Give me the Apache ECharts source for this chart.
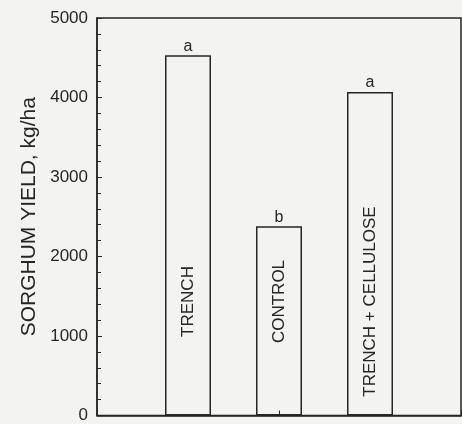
<!DOCTYPE html>
<html>
<head>
<meta charset="utf-8">
<script src="https://cdn.jsdelivr.net/npm/echarts@6/dist/echarts.min.js"></script>
<style>
html,body{margin:0;padding:0;background:#f3f3f2;}
#c{width:462px;height:424px;}
</style>
</head>
<body>
<div id="c"></div>
<script>
const categories = ['TRENCH', 'CONTROL', 'TRENCH + CELLULOSE'];
const yields = [4530, 2380, 4070];
const letters = ['a', 'b', 'a'];
const yTicks = [0, 1000, 2000, 3000, 4000, 5000];

const ink = '#262626';
const font = '"Liberation Sans", Arial, Helvetica, sans-serif';

const xData = [''].concat(categories, ['']);
const barData = [null].concat(yields.map((v, i) => ({ value: v, letter: letters[i], cat: categories[i] })), [null]);

const chart = echarts.init(document.getElementById('c'));
chart.setOption({
  backgroundColor: '#f3f3f2',
  animation: false,
  grid: { left: 97, right: 1, top: 18, bottom: 7, show: true, borderColor: ink, borderWidth: 1.5, backgroundColor: 'transparent' },
  xAxis: {
    type: 'category', data: xData, boundaryGap: false,
    axisLine: { show: true, lineStyle: { color: ink, width: 1.5 } },
    axisTick: { show: true, inside: true, length: 5, lineStyle: { color: ink, width: 1 } },
    axisLabel: { show: false },
    splitLine: { show: false }
  },
  yAxis: {
    type: 'value', min: yTicks[0], max: yTicks[yTicks.length - 1], interval: 1000,
    name: 'SORGHUM YIELD, kg/ha', nameLocation: 'middle', nameGap: 51, nameRotate: 90,
    nameTextStyle: { color: ink, fontSize: 21, fontFamily: font },
    axisLine: { show: true, lineStyle: { color: ink, width: 1.5 } },
    axisTick: { show: true, inside: true, length: 5, lineStyle: { color: ink, width: 1 } },
    minorTick: { show: true, splitNumber: 5, length: 4, lineStyle: { color: ink, width: 1 } },
    axisLabel: { color: ink, fontSize: 17, fontFamily: font, margin: 9, formatter: v => String(v) },
    splitLine: { show: false }
  },
  series: [
    {
      type: 'bar', data: barData, barWidth: 46,
      itemStyle: { color: 'transparent', borderColor: ink, borderWidth: 1.5 },
      label: { show: true, position: 'top', distance: 1, color: ink, fontSize: 16, fontFamily: font,
        formatter: p => p.data ? p.data.letter : '' }
    },
    {
      type: 'bar', data: barData, barWidth: 46, barGap: '-100%',
      itemStyle: { color: 'transparent', borderWidth: 0 },
      label: { show: true, position: 'insideBottom', distance: 114, rotate: 90, align: 'center', verticalAlign: 'middle',
        color: ink, fontSize: 17, fontFamily: font, formatter: p => p.data ? p.data.cat : '' }
    }
  ]
});
</script>
</body>
</html>
